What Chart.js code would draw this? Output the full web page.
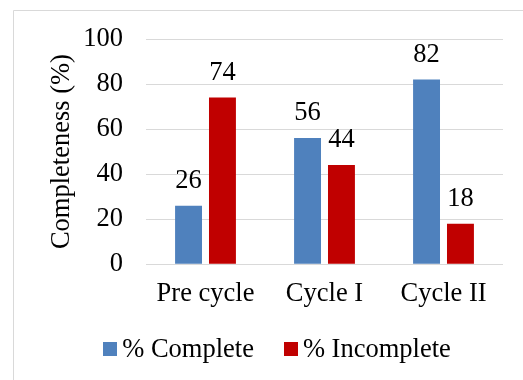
<!DOCTYPE html>
<html>
<head>
<meta charset="utf-8">
<script src="https://cdn.jsdelivr.net/npm/chart.js@4.4.1/dist/chart.umd.min.js"></script>
<style>
  html, body { margin: 0; padding: 0; background: #fff; }
  #wrap { position: relative; width: 523px; height: 380px; }
</style>
</head>
<body>
<div id="wrap"><canvas id="chart" width="523" height="380"></canvas></div>
<script>
const categories = ['Pre cycle', 'Cycle I', 'Cycle II'];
const completeValues = [26, 56, 82];
const incompleteValues = [74, 44, 18];
const seriesNames = ['% Complete', '% Incomplete'];
const yTicks = [0, 20, 40, 60, 80, 100];

const FONT = "'Liberation Serif', 'Times New Roman', serif";
const SIZE = 26.5;

// light frame around the figure
const framePlugin = {
  id: 'frame',
  beforeDraw(chart) {
    const ctx = chart.ctx;
    ctx.save();
    ctx.fillStyle = '#ffffff';
    ctx.fillRect(0, 0, chart.width, chart.height);
    ctx.strokeStyle = '#d9d9d9';
    ctx.lineWidth = 1;
    ctx.beginPath();
    ctx.moveTo(13.5, chart.height);
    ctx.lineTo(13.5, 10.5);
    ctx.lineTo(chart.width, 10.5);
    ctx.stroke();
    ctx.restore();
  }
};

// value printed above each bar
const valueLabels = {
  id: 'valueLabels',
  afterDatasetsDraw(chart) {
    const ctx = chart.ctx;
    ctx.save();
    ctx.font = SIZE + 'px ' + FONT;
    ctx.fillStyle = '#000';
    ctx.textAlign = 'center';
    ctx.textBaseline = 'alphabetic';
    chart.data.datasets.forEach((ds, i) => {
      chart.getDatasetMeta(i).data.forEach((bar, j) => {
        ctx.fillText(String(ds.data[j]), bar.x, bar.y - 18);
      });
    });
    ctx.restore();
  }
};

// compact legend: square swatch, short gap, label; centred under the figure
const compactLegend = {
  id: 'compactLegend',
  afterDraw(chart) {
    const ctx = chart.ctx;
    const box = 14, gapText = 5, gapItem = 30, centerX = 277, centerY = 349;
    ctx.save();
    ctx.font = SIZE + 'px ' + FONT;
    ctx.textBaseline = 'middle';
    ctx.textAlign = 'left';
    const items = chart.data.datasets.map(ds => ({
      text: ds.label, color: ds.backgroundColor, w: ctx.measureText(ds.label).width
    }));
    const total = items.reduce((s, it) => s + box + gapText + it.w, 0) + gapItem * (items.length - 1);
    let x = centerX - total / 2;
    items.forEach(it => {
      ctx.fillStyle = it.color;
      ctx.fillRect(Math.round(x), centerY - box / 2, box, box);
      x += box + gapText;
      ctx.fillStyle = '#000';
      ctx.fillText(it.text, x, centerY + 1);
      x += it.w + gapItem;
    });
    ctx.restore();
  }
};

new Chart(document.getElementById('chart'), {
  type: 'bar',
  data: {
    labels: categories,
    datasets: [
      { label: seriesNames[0], data: completeValues, backgroundColor: '#4f81bd' },
      { label: seriesNames[1], data: incompleteValues, backgroundColor: '#c00000' }
    ]
  },
  options: {
    responsive: false,
    animation: false,
    devicePixelRatio: 1,
    categoryPercentage: 0.57,
    barPercentage: 0.794,
    layout: { padding: { left: 38, right: 20, top: 39, bottom: 56 } },
    plugins: {
      tooltip: { enabled: false },
      legend: { display: false }
    },
    scales: {
      x: {
        grid: { display: false, drawTicks: false },
        border: { display: false },
        ticks: { font: { family: FONT, size: SIZE }, color: '#000', padding: 14, maxRotation: 0 }
      },
      y: {
        min: 0,
        max: 100,
        afterBuildTicks(scale) { scale.ticks = yTicks.map(v => ({ value: v })); },
        afterFit(scale) { scale.width = 108; },
        grid: { color: '#d9d9d9', lineWidth: 1, drawTicks: false },
        border: { display: false },
        ticks: { font: { family: FONT, size: SIZE }, color: '#000', padding: 23 },
        title: {
          display: true,
          text: 'Completeness (%)',
          font: { family: FONT, size: SIZE },
          color: '#000',
          padding: { top: 8, bottom: 0 }
        }
      }
    }
  },
  plugins: [framePlugin, valueLabels, compactLegend]
});
</script>
</body>
</html>
